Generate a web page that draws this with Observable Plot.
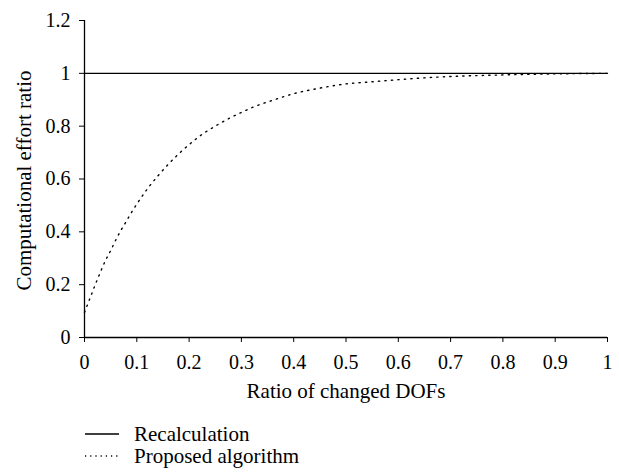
<!DOCTYPE html>
<html>
<head>
<meta charset="utf-8">
<script src="https://cdn.jsdelivr.net/npm/d3@7"></script>
<script src="https://cdn.jsdelivr.net/npm/@observablehq/plot@0.6"></script>
<style>
  html, body { margin: 0; padding: 0; background: #fff; }
  #wrap { position: relative; width: 619px; height: 472px; font-family: "Liberation Serif", "DejaVu Serif", serif; }
  #chart { position: absolute; left: 0; top: 0; }
  #legend { position: absolute; left: 85px; top: 423px; font-size: 21px; color: #000; }
  .row { display: flex; align-items: center; height: 22px; }
  .row svg { margin-right: 15px; }
</style>
</head>
<body>
<div id="wrap">
  <div id="chart"></div>
  <div id="legend"></div>
</div>
<script>
const seriesNames = ["Recalculation", "Proposed algorithm"];
const xLabel = "Ratio of changed DOFs";
const yLabel = "Computational effort ratio";
const xTicks = [0, 0.1, 0.2, 0.3, 0.4, 0.5, 0.6, 0.7, 0.8, 0.9, 1];
const yTicks = [0, 0.2, 0.4, 0.6, 0.8, 1, 1.2];

const recalcX = [0, 1];
const recalcY = [1, 1];

const propX = [0, 0.01, 0.02, 0.03, 0.04, 0.05, 0.06, 0.07, 0.08, 0.09, 0.1, 0.12, 0.14, 0.16, 0.18, 0.2, 0.22, 0.25, 0.28, 0.3, 0.33, 0.36, 0.4, 0.45, 0.5, 0.55, 0.6, 0.65, 0.7, 0.8, 0.9, 1.0];
const propY = [0.095, 0.146, 0.197, 0.245, 0.291, 0.329, 0.370, 0.407, 0.440, 0.474, 0.505, 0.562, 0.611, 0.655, 0.695, 0.730, 0.762, 0.800, 0.833, 0.852, 0.878, 0.898, 0.923, 0.944, 0.960, 0.968, 0.976, 0.983, 0.988, 0.994, 0.998, 1.0];

const recalc = recalcX.map((x, i) => ({x, y: recalcY[i]}));
const prop = propX.map((x, i) => ({x, y: propY[i]}));

const font = "Liberation Serif, DejaVu Serif, serif";

const chart = Plot.plot({
  width: 619,
  height: 415,
  marginLeft: 84,
  marginRight: 12,
  marginTop: 20,
  marginBottom: 78,
  style: { fontFamily: font, fontSize: "20px", color: "#000", background: "#fff" },
  x: { domain: [0, 1] },
  y: { domain: [0, 1.2] },
  marks: [
    Plot.axisX({ ticks: xTicks, tickSize: 5, tickPadding: 12, label: null, fontSize: 20, tickFormat: d => String(d) }),
    Plot.axisY({ ticks: yTicks, tickSize: 5, tickPadding: 9, label: null, fontSize: 20, tickFormat: d => String(d) }),
    Plot.ruleY([0], { stroke: "#000", strokeWidth: 1.3 }),
    Plot.ruleX([0], { stroke: "#000", strokeWidth: 1.3 }),
    Plot.line(recalc, { x: "x", y: "y", stroke: "#000", strokeWidth: 1.3 }),
    Plot.line(prop, { x: "x", y: "y", stroke: "#000", strokeWidth: 1.4, strokeDasharray: "1.3 5.2", curve: "monotone-x" }),
    Plot.text([xLabel], { frameAnchor: "bottom", textAnchor: "middle", dy: 60, fontSize: 21, fill: "#000" }),
    Plot.text([yLabel], { frameAnchor: "left", textAnchor: "middle", rotate: -90, dx: -60, dy: 1.5, fontSize: 21, fill: "#000" })
  ]
});
document.getElementById("chart").appendChild(chart);

// legend
const legend = document.getElementById("legend");
seriesNames.forEach((name, i) => {
  const row = document.createElement("div");
  row.className = "row";
  const sw = d3.create("svg").attr("width", 34).attr("height", 10);
  sw.append("line").attr("x1", 0).attr("x2", 34).attr("y1", 5).attr("y2", 5)
    .attr("stroke", "#000").attr("stroke-width", i === 0 ? 1.3 : 1.4)
    .attr("stroke-dasharray", i === 0 ? null : "1.2 4");
  row.appendChild(sw.node());
  const span = document.createElement("span");
  span.textContent = name;
  row.appendChild(span);
  legend.appendChild(row);
});
</script>
</body>
</html>
